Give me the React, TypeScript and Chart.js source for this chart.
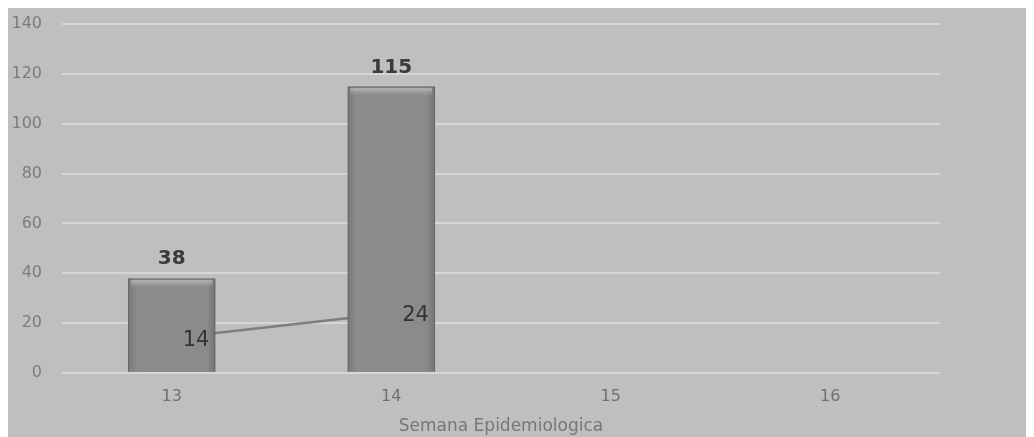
import React, { useEffect, useRef } from "react";
import { Chart, registerables } from "chart.js";

Chart.register(...registerables);

const weeks = ["13", "14", "15", "16"];
const barValues = [38, 115, null, null];
const lineValues = [14, 24, null, null];
const yTicks = [0, 20, 40, 60, 80, 100, 120, 140];
const axisTitle = "Semana Epidemiologica";

const labelPlugin = {
  id: "valueLabels",
  afterDatasetsDraw(chart: any) {
    const ctx = chart.ctx;
    ctx.save();
    const barMeta = chart.getDatasetMeta(0);
    barMeta.data.forEach((el: any, i: number) => {
      if (barValues[i] == null) return;
      const w = el.width;
      const left = el.x - w / 2;
      if (!Number.isFinite(left) || !Number.isFinite(el.y)) return;
      const sg = ctx.createLinearGradient(left, 0, left + w, 0);
      sg.addColorStop(0, "rgba(80,80,80,0.4)");
      sg.addColorStop(0.1, "rgba(90,90,90,0)");
      sg.addColorStop(0.9, "rgba(90,90,90,0)");
      sg.addColorStop(1, "rgba(80,80,80,0.45)");
      ctx.fillStyle = sg;
      ctx.fillRect(left + 1, el.y + 1, w - 2, el.base - el.y - 2);
      const g = ctx.createLinearGradient(0, el.y + 1, 0, el.y + 10);
      g.addColorStop(0, "rgba(205,205,205,0.9)");
      g.addColorStop(1, "rgba(150,150,150,0)");
      ctx.fillStyle = g;
      ctx.fillRect(left + 3, el.y + 2, w - 6, 8);
    });
    ctx.fillStyle = "#3a3a3a";
    ctx.font = "bold 20px 'DejaVu Sans'";
    ctx.textAlign = "center";
    ctx.textBaseline = "bottom";
    barMeta.data.forEach((el: any, i: number) => {
      const v = barValues[i];
      if (v == null) return;
      ctx.fillText(String(v), el.x, el.y - 9);
    });
    const lineMeta = chart.getDatasetMeta(1);
    ctx.font = "21px 'DejaVu Sans'";
    ctx.textAlign = "left";
    ctx.textBaseline = "middle";
    ctx.fillStyle = "#333333";
    lineMeta.data.forEach((el: any, i: number) => {
      const v = lineValues[i];
      if (v == null) return;
      ctx.fillText(String(v), el.x + 11, el.y + 2);
    });
    ctx.restore();
  },
};

export default function App() {
  const ref = useRef<HTMLCanvasElement>(null);
  useEffect(() => {
    document.body.style.overflow = "hidden";
    const canvas = ref.current!;
    const ctx = canvas.getContext("2d")!;
    const chart = new Chart(ctx, {
      type: "bar",
      data: {
        labels: weeks,
        datasets: [
          {
            type: "bar",
            data: barValues as any,
            order: 1,
            backgroundColor: "#8b8b8b",
            borderColor: "#666666",
            borderWidth: 1.5,
            barPercentage: 0.4,
            categoryPercentage: 1,
          },
          {
            type: "line",
            data: lineValues as any,
            order: 2,
            borderColor: "#7e7e7e",
            borderWidth: 2.5,
            pointRadius: 0,
            tension: 0,
            spanGaps: false,
          },
        ],
      },
      options: {
        responsive: false,
        animation: false,
        layout: { padding: { top: 16, right: 94, left: 0, bottom: 0 } },
        plugins: {
          legend: { display: false },
          tooltip: { enabled: false },
        },
        scales: {
          x: {
            grid: { display: false, drawTicks: false },
            border: { display: false },
            ticks: {
              padding: 14,
              color: "#707070",
              font: { family: "DejaVu Sans", size: 16 },
            },
            title: {
              display: true,
              text: axisTitle,
              color: "#777777",
              font: { family: "DejaVu Sans", size: 17 },
              padding: { top: 2, bottom: 0 },
            },
            afterFit: (s: any) => {
              s.height = 64;
            },
          },
          y: {
            min: 0,
            max: 140,
            afterBuildTicks: (s: any) => {
              s.ticks = yTicks.map((v) => ({ value: v }));
            },
            grid: { color: "#d6d6d6", lineWidth: 2, drawTicks: false },
            border: { display: false },
            ticks: {
              padding: 20,
              color: "#7c7c7c",
              font: { family: "DejaVu Sans", size: 16 },
            },
            afterFit: (s: any) => {
              s.width = 54;
              s.paddingTop = 0;
              s.paddingBottom = 0;
            },
          },
        },
      },
      plugins: [
        {
          id: "bg",
          beforeDraw(c: any) {
            const cx = c.ctx;
            cx.save();
            cx.fillStyle = "#bfbfbf";
            cx.fillRect(0, 0, c.width, c.height);
            cx.restore();
          },
        },
        labelPlugin,
      ],
    } as any);
    return () => chart.destroy();
  }, []);
  return (
    <canvas
      ref={ref}
      width={1026}
      height={429}
      style={{ display: "block", width: 1026, height: 429 }}
    />
  );
}
